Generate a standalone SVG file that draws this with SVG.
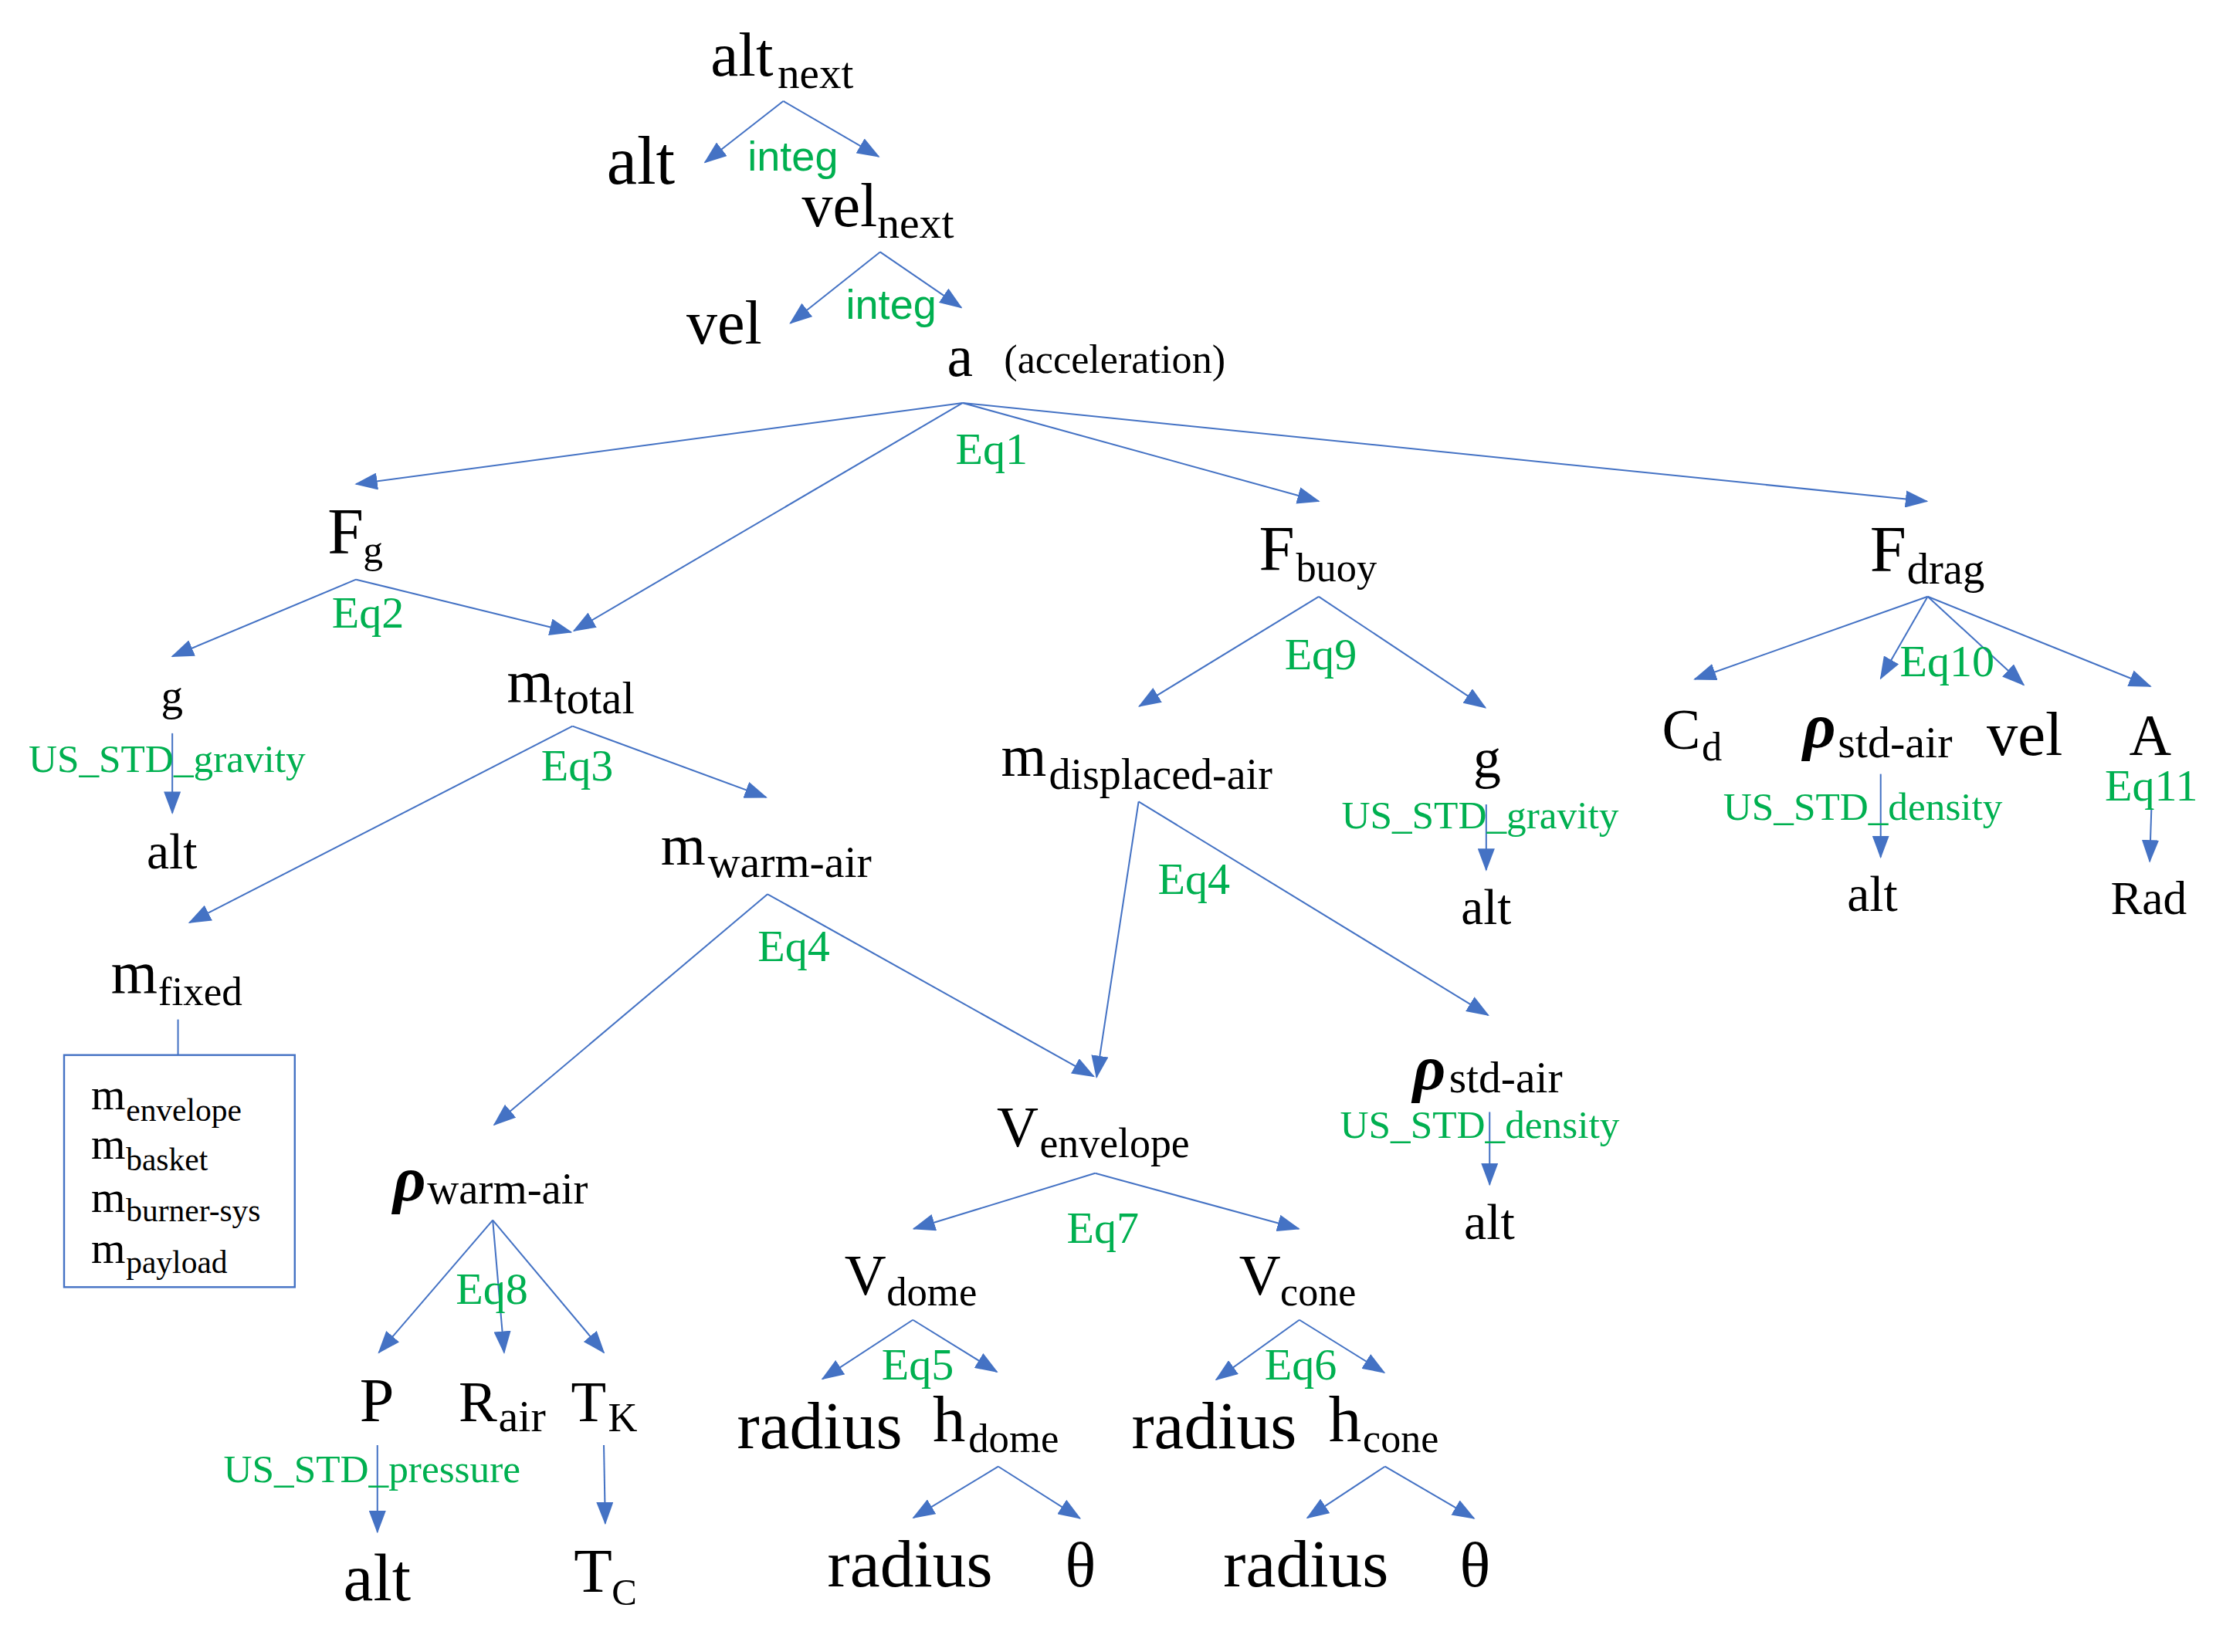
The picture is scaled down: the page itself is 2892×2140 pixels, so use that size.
<svg xmlns="http://www.w3.org/2000/svg" width="2892" height="2140" viewBox="0 0 2892 2140">
<style>
.t{font-family:"Liberation Serif","DejaVu Serif",serif;fill:#000}
.eq{font-family:"Liberation Serif","DejaVu Serif",serif;fill:#00B050;font-size:31.5px}
.src{font-family:"Liberation Serif","DejaVu Serif",serif;fill:#00B050;font-size:27.8px}
.integ{font-family:"Liberation Sans",Arial,sans-serif;fill:#00B050;font-size:29.3px}
.rho{font-weight:bold;font-style:italic}
.c line{stroke:#4472C4;stroke-width:1.1;fill:none;marker-end:url(#ah)}
.c line.plain{marker-end:none}
.box{fill:none;stroke:#4472C4;stroke-width:1.3}
</style>
<defs>
<marker id="ah" markerUnits="userSpaceOnUse" markerWidth="16" markerHeight="12" refX="15" refY="6" orient="auto">
<path d="M0,0 L16,6 L0,12 z" fill="#4472C4"/>
</marker>
</defs>
<rect width="2892" height="2140" fill="#fff"/>
<g transform="scale(1.8444)">
<g id="connectors" class="c">
<line x1="550" y1="71" x2="495" y2="114"/>
<line x1="550" y1="71" x2="617" y2="110"/>
<line x1="618" y1="177" x2="555" y2="227"/>
<line x1="618" y1="177" x2="675" y2="216"/>
<line x1="676" y1="283" x2="250" y2="340"/>
<line x1="676" y1="283" x2="403" y2="443"/>
<line x1="676" y1="283" x2="926" y2="352"/>
<line x1="676" y1="283" x2="1353" y2="352"/>
<line x1="250" y1="407" x2="121" y2="461"/>
<line x1="250" y1="407" x2="401" y2="444"/>
<line x1="121" y1="515" x2="121" y2="571"/>
<line x1="402" y1="510" x2="133" y2="648"/>
<line x1="402" y1="510" x2="538" y2="560"/>
<line class="plain" x1="125" y1="716" x2="125" y2="741"/>
<line x1="539" y1="628" x2="347" y2="790"/>
<line x1="539" y1="628" x2="768" y2="756"/>
<line x1="346" y1="857" x2="266" y2="950"/>
<line x1="346" y1="857" x2="354" y2="950"/>
<line x1="346" y1="857" x2="424" y2="950"/>
<line x1="265" y1="1015" x2="265" y2="1076"/>
<line x1="424" y1="1015" x2="425" y2="1070"/>
<line x1="926" y1="419" x2="800" y2="496"/>
<line x1="926" y1="419" x2="1043" y2="497"/>
<line x1="1043.6" y1="565" x2="1043.6" y2="611"/>
<line x1="799.5" y1="563" x2="770" y2="756.5"/>
<line x1="799.5" y1="563" x2="1045" y2="713"/>
<line x1="1046" y1="781" x2="1046" y2="832"/>
<line x1="769" y1="824" x2="641.6" y2="863"/>
<line x1="769" y1="824" x2="912" y2="863"/>
<line x1="641" y1="927" x2="577.5" y2="968.5"/>
<line x1="641" y1="927" x2="700" y2="963.5"/>
<line x1="701" y1="1030" x2="641.4" y2="1066"/>
<line x1="701" y1="1030" x2="758.3" y2="1066.4"/>
<line x1="912.4" y1="927" x2="854" y2="969"/>
<line x1="912.4" y1="927" x2="972" y2="964"/>
<line x1="972.5" y1="1030" x2="918" y2="1066"/>
<line x1="972.5" y1="1030" x2="1035" y2="1066.4"/>
<line x1="1353.6" y1="419" x2="1190" y2="477"/>
<line x1="1353.6" y1="419" x2="1320.6" y2="476.5"/>
<line x1="1353.6" y1="419" x2="1421" y2="481"/>
<line x1="1353.6" y1="419" x2="1510" y2="482"/>
<line x1="1320.6" y1="543.6" x2="1320.6" y2="602"/>
<line x1="1510.7" y1="568" x2="1509.5" y2="605"/>
</g>

<g id="n-alt-next"><text class="t" x="499" y="53" font-size="44">alt<tspan x="546" y="62" font-size="31">next</tspan></text></g>
<g id="n-alt-1"><text class="t" x="426" y="129" font-size="48">alt</text></g>
<g id="l-integ-1"><text class="integ" x="525" y="120">integ</text></g>
<g id="n-vel-next"><text class="t" x="563" y="159" font-size="43.4">vel<tspan x="616" y="167" font-size="31.3">next</tspan></text></g>
<g id="n-vel-1"><text class="t" x="482" y="241" font-size="43.4">vel</text></g>
<g id="l-integ-2"><text class="integ" x="594" y="224">integ</text></g>
<g id="n-a"><text class="t" x="665" y="264" font-size="41">a</text><text class="t" x="705" y="262" font-size="28.3">(acceleration)</text></g>
<g id="l-eq1"><text class="eq" x="671" y="326">Eq1</text></g>

<g id="n-Fg"><text class="t" x="230" y="389" font-size="45.5">F<tspan x="255" y="395" font-size="28">g</tspan></text></g>
<g id="l-eq2"><text class="eq" x="233" y="441">Eq2</text></g>
<g id="n-g-1"><text class="t" x="113" y="499" font-size="31">g</text></g>
<g id="l-grav-1"><text class="src" x="20" y="542">US_STD_gravity</text></g>
<g id="n-alt-2"><text class="t" x="103" y="610" font-size="35.5">alt</text></g>

<g id="n-mtotal"><text class="t" x="356" y="493" font-size="42">m<tspan x="389" y="501" font-size="31.8">total</tspan></text></g>
<g id="l-eq3"><text class="eq" x="380" y="548">Eq3</text></g>
<g id="n-mfixed"><text class="t" x="78" y="697" font-size="42">m<tspan x="111" y="706" font-size="28.8">fixed</tspan></text></g>
<g id="n-fixed-box">
<rect class="box" x="45" y="741" width="162" height="163"/>
<text class="t" x="64" y="779" font-size="31">m<tspan x="88.5" y="787" font-size="22.5">envelope</tspan></text>
<text class="t" x="64" y="814" font-size="31">m<tspan x="88.5" y="822" font-size="22.5">basket</tspan></text>
<text class="t" x="64" y="851" font-size="31">m<tspan x="88.5" y="858" font-size="22.5">burner-sys</tspan></text>
<text class="t" x="64" y="887" font-size="31">m<tspan x="88.5" y="894" font-size="22.5">payload</tspan></text>
</g>

<g id="n-mwarm"><text class="t" x="464" y="607" font-size="40.5">m<tspan x="497" y="616" font-size="31.4">warm-air</tspan></text></g>
<g id="l-eq4-1"><text class="eq" x="532" y="675">Eq4</text></g>
<g id="n-rho-warm"><text class="t" x="276" y="843" font-size="45"><tspan class="rho">ρ</tspan><tspan x="300" y="845" font-size="30.8">warm-air</tspan></text></g>
<g id="l-eq8"><text class="eq" x="320" y="916">Eq8</text></g>
<g id="n-P"><text class="t" x="252.5" y="998" font-size="43.5">P</text></g>
<g id="n-Rair"><text class="t" x="322" y="998" font-size="40.5">R<tspan x="350" y="1005" font-size="31.5">air</tspan></text></g>
<g id="n-TK"><text class="t" x="401" y="998" font-size="40.5">T<tspan x="427" y="1005" font-size="28.5">K</tspan></text></g>
<g id="l-pressure"><text class="src" x="157" y="1041">US_STD_pressure</text></g>
<g id="n-alt-3"><text class="t" x="241" y="1124" font-size="47.5">alt</text></g>
<g id="n-TC"><text class="t" x="403" y="1118" font-size="44">T<tspan x="429.5" y="1127" font-size="26.5">C</tspan></text></g>

<g id="n-mdisp"><text class="t" x="703" y="545" font-size="41">m<tspan x="736.5" y="554" font-size="30.4">displaced-air</tspan></text></g>
<g id="l-eq4-2"><text class="eq" x="813" y="628">Eq4</text></g>
<g id="n-Fbuoy"><text class="t" x="884" y="400" font-size="45">F<tspan x="910" y="408" font-size="28.4">buoy</tspan></text></g>
<g id="l-eq9"><text class="eq" x="902" y="470">Eq9</text></g>
<g id="n-g-2"><text class="t" x="1034.5" y="546" font-size="39">g</text></g>
<g id="l-grav-2"><text class="src" x="942" y="582">US_STD_gravity</text></g>
<g id="n-alt-4"><text class="t" x="1026" y="649" font-size="35.3">alt</text></g>
<g id="n-rho-std-1"><text class="t" x="992" y="765" font-size="45"><tspan class="rho">ρ</tspan><tspan x="1017.5" y="767" font-size="31.2">std-air</tspan></text></g>
<g id="l-dens-1"><text class="src" x="941" y="799">US_STD_density</text></g>
<g id="n-alt-5"><text class="t" x="1028" y="870" font-size="35.7">alt</text></g>

<g id="n-Venv"><text class="t" x="700" y="805" font-size="40.5">V<tspan x="730" y="813" font-size="29.2">envelope</tspan></text></g>
<g id="l-eq7"><text class="eq" x="749" y="873">Eq7</text></g>
<g id="n-Vdome"><text class="t" x="593" y="909" font-size="40.5">V<tspan x="622.5" y="917" font-size="28.6">dome</tspan></text></g>
<g id="n-Vcone"><text class="t" x="870" y="909" font-size="40.5">V<tspan x="899" y="917" font-size="28.2">cone</tspan></text></g>
<g id="l-eq5"><text class="eq" x="619" y="969">Eq5</text></g>
<g id="l-eq6"><text class="eq" x="888" y="969">Eq6</text></g>
<g id="n-radius-1"><text class="t" x="517.5" y="1017" font-size="47.5">radius</text></g>
<g id="n-hdome"><text class="t" x="655" y="1012" font-size="46">h<tspan x="680" y="1020" font-size="28.6">dome</tspan></text></g>
<g id="n-radius-2"><text class="t" x="794.5" y="1017" font-size="47.5">radius</text></g>
<g id="n-hcone"><text class="t" x="933" y="1012" font-size="46">h<tspan x="957" y="1020" font-size="28.2">cone</tspan></text></g>
<g id="n-radius-3"><text class="t" x="581" y="1114" font-size="47.5">radius</text></g>
<g id="n-theta-1"><text class="t" x="748" y="1114" font-size="45">θ</text></g>
<g id="n-radius-4"><text class="t" x="859" y="1114" font-size="47.5">radius</text></g>
<g id="n-theta-2"><text class="t" x="1025" y="1114" font-size="45">θ</text></g>

<g id="n-Fdrag"><text class="t" x="1313" y="401" font-size="46">F<tspan x="1339" y="410" font-size="30.7">drag</tspan></text></g>
<g id="l-eq10"><text class="eq" x="1334" y="475">Eq10</text></g>
<g id="n-Cd"><text class="t" x="1167" y="526" font-size="40.5">C<tspan x="1195" y="534" font-size="28.4">d</tspan></text></g>
<g id="n-rho-std-2"><text class="t" x="1266" y="525" font-size="45"><tspan class="rho">ρ</tspan><tspan x="1290.5" y="532" font-size="31.5">std-air</tspan></text></g>
<g id="n-vel-2"><text class="t" x="1395" y="530" font-size="43.7">vel</text></g>
<g id="n-A"><text class="t" x="1495" y="530" font-size="41">A</text></g>
<g id="l-dens-2"><text class="src" x="1210" y="576">US_STD_density</text></g>
<g id="n-alt-6"><text class="t" x="1297" y="640" font-size="35.5">alt</text></g>
<g id="l-eq11"><text class="eq" x="1478" y="562">Eq11</text></g>
<g id="n-Rad"><text class="t" x="1482" y="642" font-size="33.3">Rad</text></g>
</g>
</svg>
